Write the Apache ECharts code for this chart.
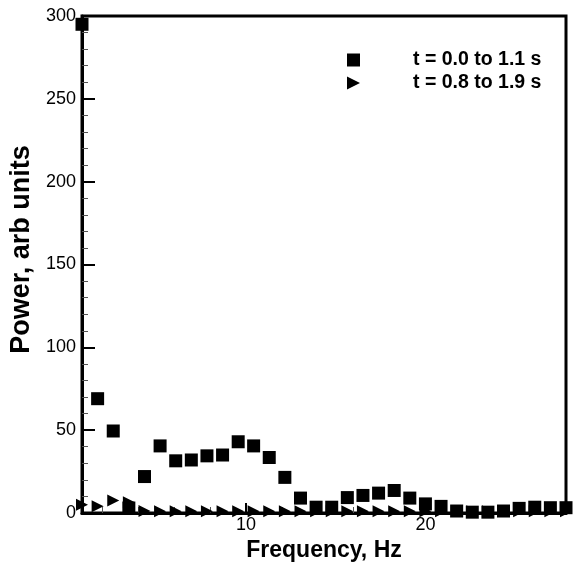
<!DOCTYPE html>
<html><head><meta charset="utf-8">
<script src="https://cdn.jsdelivr.net/npm/echarts@6/dist/echarts.min.js"></script>
<style>html,body{margin:0;padding:0;background:#fff}#c{width:581px;height:562px}</style>
</head><body><div id="c"></div>
<script>
const freq = [0.87,1.74,2.61,3.48,4.35,5.22,6.09,6.96,7.83,8.70,9.57,10.43,11.30,12.17,13.04,13.91,14.78,15.65,16.52,17.39,18.26,19.13,20.00,20.87,21.74,22.61,23.48,24.35,25.22,26.09,26.96,27.83];
const powerA = [295,69,49.5,3,22,40.5,31.5,32,34.5,35,43,40.5,33.5,21.5,9,3.5,3.5,9.3,10.6,12,13.6,9,5.5,4,1.2,0.5,0.5,1.2,2.8,3.5,3.2,3.2];
const powerB = [5,4,7.5,6.5,1.2,1,1,1,1,1,1,1,1,1,1,1,1,1,1,1,1,1,1,1,1,1,1,1,1,1,1,1];
const seriesNames = ['t = 0.0 to 1.1 s','t = 0.8 to 1.9 s'];
const xMajor = [10,20];
const xMinor = [2,4,6,8,12,14,16,18,22,24,26];
const yMin = 0, yMax = 300, yStep = 50;

const tri = 'path://M0,0 L10,5 L0,10 Z';
const chart = echarts.init(document.getElementById('c'), null, {renderer:'canvas'});
const FONT = 'Liberation Sans, Arial, sans-serif';
chart.setOption({
  animation:false,
  grid:{left:82,right:15,top:16,bottom:49,show:true,borderColor:'#000',borderWidth:3,outerBoundsMode:'none',containLabel:false},
  legend:{
    orient:'vertical', left:342, top:45, itemGap:3, itemWidth:13, itemHeight:13,
    data:[{name:seriesNames[0],icon:'rect'},{name:seriesNames[1],icon:tri}],
    itemStyle:{opacity:1},
    textStyle:{fontFamily:FONT,fontWeight:'bold',fontSize:19.5,color:'#000',padding:[0,0,0,48]}
  },
  xAxis:[{
    type:'value', min:freq[0], max:freq[freq.length-1],
    name:'Frequency, Hz', nameLocation:'middle', nameGap:12,
    nameTextStyle:{fontFamily:FONT,fontWeight:'bold',fontSize:23,color:'#000'},
    axisLine:{show:true,onZero:false,lineStyle:{color:'#000',width:3}},
    axisTick:{show:true,inside:true,length:10,customValues:xMajor,lineStyle:{color:'#000',width:2}},
    axisLabel:{show:true,customValues:xMajor,margin:3,fontFamily:FONT,fontSize:18,color:'#000'},
    splitLine:{show:false}
  },{
    type:'value', min:freq[0], max:freq[freq.length-1], position:'bottom',
    axisLine:{show:false},
    axisTick:{show:true,inside:true,length:6,customValues:xMinor,lineStyle:{color:'#555',width:1}},
    axisLabel:{show:false}, splitLine:{show:false}
  }],
  yAxis:{
    type:'value', min:yMin, max:yMax, interval:yStep,
    name:'Power, arb units', nameLocation:'middle', nameGap:47, nameMoveOverlap:false,
    nameTextStyle:{fontFamily:FONT,fontWeight:'bold',fontSize:27,color:'#000',padding:[0,0,0,30]},
    axisLine:{show:true,lineStyle:{color:'#000',width:3}},
    axisTick:{show:true,inside:true,length:13,lineStyle:{color:'#000',width:2}},
    minorTick:{show:true,splitNumber:5,length:6,lineStyle:{color:'#555',width:1}},
    axisLabel:{margin:6,fontFamily:FONT,fontSize:18,color:'#000'},
    splitLine:{show:false}
  },
  series:[{
    name:seriesNames[0], type:'scatter', symbol:'rect', symbolSize:13,
    itemStyle:{color:'#000',opacity:1}, data:freq.map((f,i)=>[f,powerA[i]]), z:3
  },{
    name:seriesNames[1], type:'scatter', symbol:tri, symbolSize:[12,12],
    itemStyle:{color:'#000',opacity:1}, data:freq.map((f,i)=>[f,powerB[i]]), z:4
  }]
});
</script></body></html>
